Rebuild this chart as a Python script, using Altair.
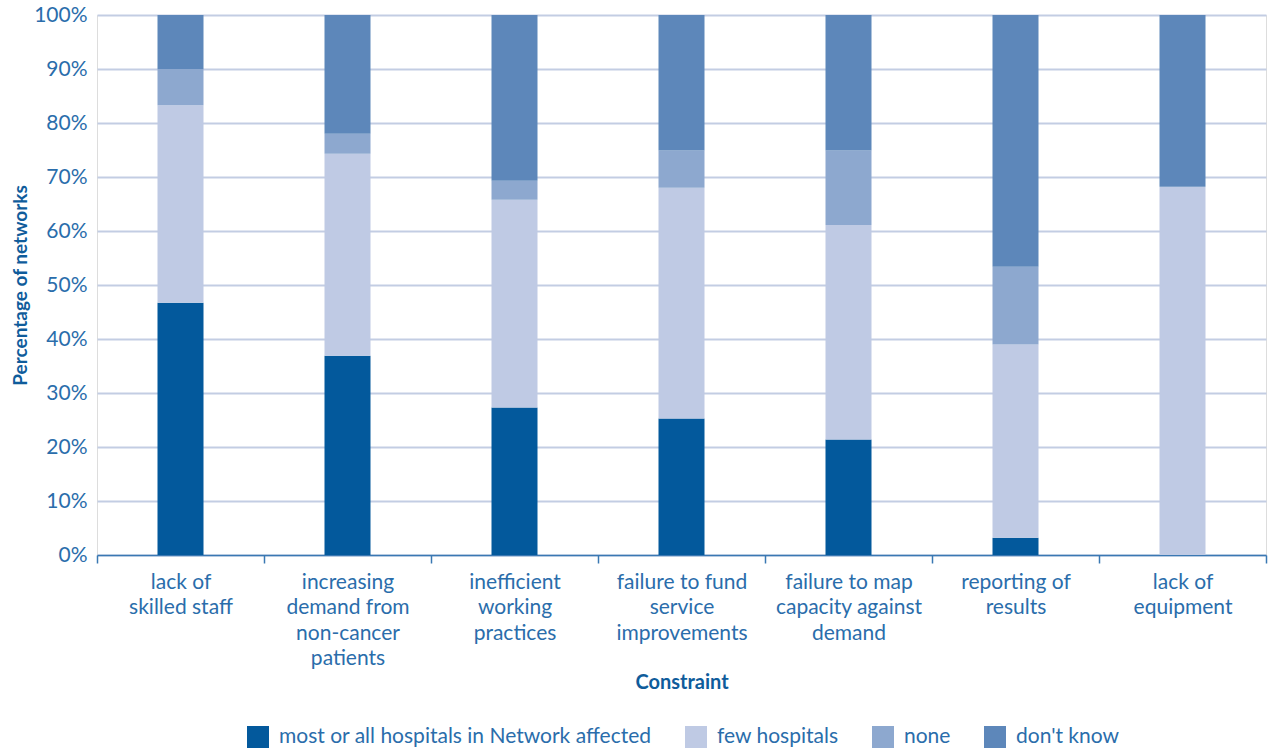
import altair as alt
import pandas as pd

categories = [
    "lack of|skilled staff",
    "increasing|demand from|non-cancer|patients",
    "inefficient|working|practices",
    "failure to fund|service|improvements",
    "failure to map|capacity against|demand",
    "reporting of|results",
    "lack of|equipment",
]
series = ["most or all hospitals in Network affected", "few hospitals", "none", "don't know"]
most_or_all = [46.7, 36.9, 27.3, 25.3, 21.4, 3.2, 0.0]
few_hosp = [36.6, 37.4, 38.5, 42.7, 39.7, 35.8, 68.2]
none_vals = [6.7, 3.7, 3.5, 6.9, 13.8, 14.4, 0.0]
dont_know = [10.0, 22.0, 30.7, 25.1, 25.1, 46.6, 31.8]
colors = ["#03599c", "#bfcae4", "#8da8cf", "#5d87ba"]

rows = []
for i, c in enumerate(categories):
    for j, (s, vals) in enumerate(zip(series, [most_or_all, few_hosp, none_vals, dont_know])):
        rows.append({"Constraint": c, "series": s, "value": vals[i], "order": j})
df = pd.DataFrame(rows)

text_color = "#2a6dab"
title_color = "#0f5c9b"
font = "Lato"
fs = 21

chart = alt.Chart(df).mark_bar(size=46).encode(
    x=alt.X("Constraint:N", sort=categories,
            scale=alt.Scale(paddingInner=0, paddingOuter=0),
            axis=alt.Axis(title="Constraint", labelAngle=0,
                          labelExpr="split(datum.label, '|')",
                          labelFont=font, labelFontSize=fs, labelColor=text_color,
                          labelLineHeight=25.5, labelPadding=8, labelLimit=0,
                          tickBand="extent", tickSize=8, tickColor="#3a78b3", tickWidth=1.5,
                          domainColor="#3a78b3", domainWidth=1.5,
                          titleFont=font, titleFontSize=20, titleFontWeight="bold",
                          titleColor=title_color, titleY=127, titleBaseline="middle",
                          grid=False)),
    y=alt.Y("value:Q", stack="zero",
            scale=alt.Scale(domain=[0, 100], nice=False),
            axis=alt.Axis(title="Percentage of networks", values=list(range(0, 101, 10)),
                          labelExpr="datum.value + '%'",
                          labelFont=font, labelFontSize=fs, labelColor=text_color,
                          labelPadding=10, ticks=False, domain=False,
                          gridColor="#c3cde3", gridWidth=1.8,
                          titleFont=font, titleFontSize=19, titleFontWeight="bold",
                          titleColor=title_color, titleX=-77, titleBaseline="middle")),
    color=alt.Color("series:N", sort=series,
                    scale=alt.Scale(domain=series, range=colors),
                    legend=alt.Legend(title=None, orient="none", direction="horizontal",
                                      legendX=150, legendY=711,
                                      symbolType="square", symbolSize=484,
                                      symbolStrokeWidth=0, symbolOpacity=1,
                                      labelFont=font, labelFontSize=fs, labelLimit=0,
                                      labelColor=text_color, labelOffset=10,
                                      columnPadding=33)),
    order=alt.Order("order:Q"),
).properties(
    width=1169, height=540,
    autosize=alt.AutoSizeParams(type="none"),
    padding={"left": 97, "top": 15, "right": 5, "bottom": 194},
).configure_view(stroke=None).configure(background="white")

chart.save("out.html", embed_options={"renderer": "svg", "actions": False})
